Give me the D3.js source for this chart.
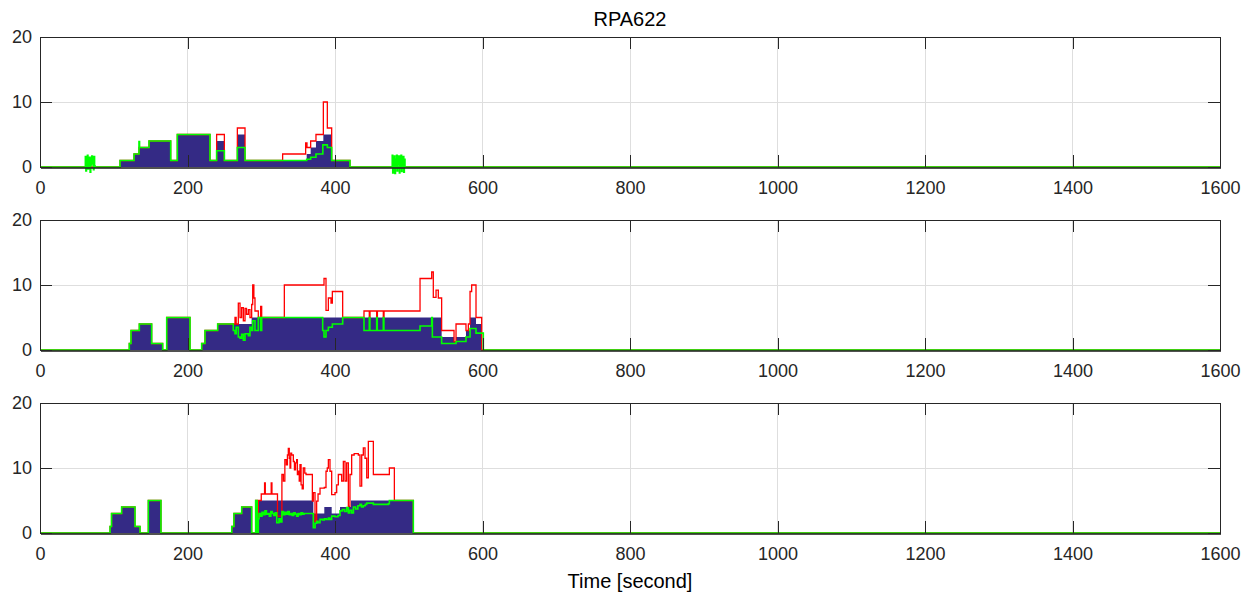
<!DOCTYPE html>
<html>
<head>
<meta charset="utf-8">
<script src="https://cdn.jsdelivr.net/npm/d3@7"></script>
<style>
  html, body { margin: 0; padding: 0; background: #fff; }
  svg { display: block; font-family: "Liberation Sans", Arial, Helvetica, sans-serif; }
</style>
</head>
<body>
<svg id="chart" width="1248" height="596"></svg>
<script>
// ---- axis ticks ----
const timeTicks = [0, 200, 400, 600, 800, 1000, 1200, 1400, 1600];
const valueTicks = [0, 10, 20];
const chartTitle = "RPA622";
const xLabel = "Time [second]";

// ---- panel 1 : [time, value] breakpoints (step after) ----
const alloc1 = [[0,0],[108.5,1],[127.5,2],[134.2,3],[147.8,4],[177.2,1],[186.2,5],[230.5,1],[239.5,4],[250,1],[267.6,5],[278,1],[361.6,2],[367,3],[374.2,4],[384.2,5],[395.5,1],[420.3,0],[1600,0]];
const demand1 = [[0,0],[108.5,1],[127.5,2],[134.2,3],[147.8,4],[177.2,1],[186.2,5],[230.5,1],[239.5,5],[250,1],[267.6,6],[278,1],[329,2],[360.2,3.7],[362,3],[367,4],[374.2,5],[384.2,10],[389.6,6],[395.5,1],[420.3,0],[1600,0]];
const usage1 = [[0,0],[61,0],[61.5,1.6],[62.2,-0.6],[63,1.2],[63.6,0.2],[64.3,1.8],[65,-0.3],[65.8,1],[66.5,0.4],[67.2,1.5],[68,-0.8],[68.8,1.1],[69.5,0.3],[70.2,1.7],[71,0.6],[71.7,1.3],[72.5,-0.4],[73.2,1.6],[74,0.2],[74.6,0],
  [108.5,1],[127.5,2],[133.4,2],[134.2,3.9],[135,3],[147.8,4],[177.2,1],[186.2,5],[230.5,1],[239.5,2.5],[250,1],[267.6,3],[278,1],[361.6,1.2],[367,1.5],[374.2,2],[383.5,3.4],[389.6,3],[395.5,1],[420.3,0],
  [477,0],[477.6,1.8],[478.3,-0.9],[479,1.4],[479.8,0.3],[480.5,1.7],[481.2,-1],[482,1.2],[482.8,0.2],[483.5,1.8],[484.3,-0.6],[485,1.5],[485.8,0.4],[486.5,1.7],[487.3,-0.9],[488,1.3],[488.8,0.1],[489.5,1.8],[490.3,-0.7],[491,1.4],[491.8,0.3],[492.5,1.6],[493.3,-0.8],[494,1.2],[494.9,0],[1600,0]];

// ---- panel 2 ----
const alloc2 = [[0,0],[121.1,1],[123.4,3],[134.7,4],[151.4,1],[166.3,0],[171.8,5],[203.4,0],[219.2,1],[223.7,3],[240.9,4],[287,5],[544.6,2],[561.4,1.3],[564.1,2],[577.6,3],[583.1,5],[591.2,4],[598.9,0],[1600,0]];
const demand2 = [[0,0],[121.1,1],[123.4,3],[134.7,4],[151.4,1],[166.3,0],[171.8,5],[203.4,0],[219.2,1],[223.7,3],[240.9,4],[264.4,5],[266,4],[268.9,7.2],[271.2,5],[273.4,6.5],[275.7,4.5],[278,6.4],[280,5.5],[282.5,6.2],[284.7,5],[287,7],[288.4,10],[290,8],[291.5,6],[296,5],[299.2,6.7],[300.6,5],[331.3,10],[383.3,10],[385.1,11],[387.8,6.1],[391,8],[394.6,7.2],[396.4,9],[410.4,5],[439.3,6],[446.5,5],[447.5,6],[456.5,5],[457.5,6],[465.5,5],[466.5,6],[515.3,11],[531.1,12],[533.3,8.1],[537,9.2],[540.1,8],[544.6,3],[561.4,1.3],[564.1,4],[577.6,3],[580.8,4],[583.1,9],[585.3,10],[591.2,5],[598.9,0],[1600,0]];
const usage2 = [[0,0],[121.1,1],[123.4,3],[134.7,4],[151.4,1],[166.3,0],[171.8,5],[203.4,0],[219.2,1],[223.7,3],[240.9,4],[262.1,3],[264.4,2.5],[266,3.5],[268.9,2],[271.2,1.8],[273.4,2.4],[275.7,1.5],[278,2.5],[282.5,2.2],[284.7,3.5],[287,3],[288.4,4.5],[291.5,3],[296,5],[299.2,3],[300.6,5],[383.3,3],[385.1,2],[387.8,3],[391,3.5],[396.4,4],[410.4,5],[439.3,3],[446.5,5],[447.3,3],[456.5,5],[457.3,3],[465.5,5],[466.3,3],[515.3,3.7],[531.1,5],[532,2],[544.6,1],[564.1,1.3],[577.6,2],[583.1,3.3],[591.2,2.6],[601.1,0],[1600,0]];

// ---- panel 3 ----
const alloc3 = [[0,0],[95,1],[97,3],[110.7,4],[128.8,1],[135.6,0],[146.9,5],[164,0],[260,1],[263,3],[273.5,4],[287,0],[292.4,5],[294.5,0],[296,5],[370.6,3],[385.5,4],[395.5,3],[406.8,4],[421.7,5],[506.2,0],[1600,0]];
const demand3 = [[0,0],[95,1],[97,3],[110.7,4],[128.8,1],[135.6,0],[146.9,5],[164,0],[260,1],[263,3],[273.5,4],[287,0],[292.4,5],[294.5,0],[296,5],[300,6],[304.5,7.7],[305.5,6],[313.5,7.7],[314.5,6],[321,6],[322,2.6],[327,2.6],[328,9],[330,8],[332,11.3],[334,10.5],[335.5,12],[336.7,13],[338,11.5],[339,10],[340,12.3],[341.2,12],[343.5,11],[345,9.7],[346.5,10.8],[348,11.3],[349,9],[350.3,9.5],[351.5,8],[352.5,10.5],[354,7.4],[355.5,6.8],[357,10],[359,9.2],[360.7,9],[368.4,9],[369.3,4.9],[370.6,6.2],[372.9,1.8],[375.1,4.9],[377,6],[379.7,6.9],[385.5,7],[387.8,9.5],[389.5,10],[391,11.3],[393.2,9.5],[395.5,5.9],[400,6.2],[402.3,7.4],[404.5,9],[409,8],[411.3,11],[413.6,8],[415.8,10.8],[418.1,4.1],[420.3,9],[422.6,12],[426,12.2],[431.6,12],[433.9,7.2],[436.2,12],[438.4,13.1],[440.7,11.5],[443,8.5],[445.2,14.1],[451.1,14.1],[452,9],[472.3,9],[473.7,10],[480,10],[480.5,5],[506.2,0],[1600,0]];
const usage3 = [[0,0],[95,1],[97,3],[110.7,4],[128.8,1],[135.6,0],[146.9,5],[164,0],[260,1],[263,3],[273.5,4],[287,0],[292.4,5],[294.5,0],[296,2.2],[297,3],[299,2.6],[301,3.2],[303,2.8],[305,3.4],[307,2.9],[309,3],[311,2.6],[313,3.3],[315,3],[317,2.7],[319,3.1],[321,1.6],[324,2.2],[326,1.7],[328,3.3],[330,2.8],[332,3.2],[334,2.9],[336,3.3],[338,2.8],[340,3],[342,2.7],[344,3.1],[346,2.9],[348,2.6],[350,3],[352,2.8],[354,3.1],[356,2.9],[358,3],[368.4,3],[370.6,0.8],[373,1.5],[375.1,1.8],[377,1.6],[379.7,2.1],[383,2],[385.5,2.2],[388,2.1],[391,2.3],[393,2.1],[395.5,2.6],[400,2.5],[404,2.7],[406.8,3.4],[410,3.6],[413,3.3],[415.8,3.9],[418.1,3.1],[420,3.5],[422.6,3.1],[425,4],[428,3.7],[431,4.2],[433.9,4.4],[436,4],[438.4,4.2],[441,4.4],[443,4.6],[448,4.6],[452,4.4],[472.3,4.5],[473.7,5],[506.2,0],[1600,0]];

const panels = [
  { alloc: alloc1, demand: demand1, usage: usage1 },
  { alloc: alloc2, demand: demand2, usage: usage2 },
  { alloc: alloc3, demand: demand3, usage: usage3 }
];

// ---- layout ----
const svg = d3.select("#chart");
const left = 40, right = 1220, panelTops = [37, 220, 403], panelH = 130;
const axisColor = "#262626";
const fontTick = 18;
const fmt = d3.format("d");

const x = d3.scaleLinear().domain([0, 1600]).range([left, right]);

svg.append("rect").attr("width", 1248).attr("height", 596).attr("fill", "#fff");

svg.append("text")
  .attr("x", (left + right) / 2).attr("y", 26)
  .attr("text-anchor", "middle")
  .attr("font-size", 20).attr("fill", "#000")
  .text(chartTitle);

panels.forEach((p, i) => {
  const top = panelTops[i], bottom = top + panelH;
  const y = d3.scaleLinear().domain([0, 20]).range([bottom, top]);
  const g = svg.append("g");

  // grid
  const grid = g.append("g").attr("stroke", "#dedede").attr("stroke-width", 1).attr("shape-rendering", "crispEdges");
  grid.selectAll("line.v").data(timeTicks.slice(1, -1)).join("line")
    .attr("x1", d => x(d)).attr("x2", d => x(d)).attr("y1", top).attr("y2", bottom);
  grid.selectAll("line.h").data(valueTicks.slice(1, -1)).join("line")
    .attr("x1", left).attr("x2", right).attr("y1", d => y(d)).attr("y2", d => y(d));

  // data
  const area = d3.area().x(d => x(d[0])).y0(y(0)).y1(d => y(d[1])).curve(d3.curveStepAfter);
  const line = d3.line().x(d => x(d[0])).y(d => y(d[1])).curve(d3.curveStepAfter);

  g.append("path").datum(p.alloc).attr("d", area).attr("fill", "#342a85");
  g.append("path").datum(p.demand).attr("d", line).attr("fill", "none")
    .attr("stroke", "#ff0000").attr("stroke-width", 1.3);
  g.append("path").datum(p.usage).attr("d", line).attr("fill", "none")
    .attr("stroke", "#00ff00").attr("stroke-width", 1.6);

  // axes (inward ticks, box)
  const axB = g.append("g").attr("transform", `translate(0,${bottom})`)
    .call(d3.axisBottom(x).tickValues(timeTicks).tickFormat(fmt).tickSizeInner(-12).tickSizeOuter(0).tickPadding(14));
  const axT = g.append("g").attr("transform", `translate(0,${top})`)
    .call(d3.axisTop(x).tickValues(timeTicks).tickSizeInner(-12).tickSizeOuter(0).tickFormat(""));
  const axL = g.append("g").attr("transform", `translate(${left},0)`)
    .call(d3.axisLeft(y).tickValues(valueTicks).tickFormat(fmt).tickSizeInner(-12).tickSizeOuter(0).tickPadding(8));
  const axR = g.append("g").attr("transform", `translate(${right},0)`)
    .call(d3.axisRight(y).tickValues(valueTicks).tickSizeInner(-12).tickSizeOuter(0).tickFormat(""));

  [axB, axT, axL, axR].forEach(a => {
    a.selectAll("path, line").attr("stroke", axisColor).attr("shape-rendering", "crispEdges");
    a.selectAll("text").attr("font-size", fontTick).attr("fill", axisColor)
      .attr("font-family", "'Liberation Sans', Arial, sans-serif");
  });
  // the zero line of the usage trace shows through the bottom edge
  axB.select("path.domain").attr("stroke-width", 2).attr("stroke-opacity", 0.8);
});

svg.append("text")
  .attr("x", (left + right) / 2).attr("y", 588)
  .attr("text-anchor", "middle")
  .attr("font-size", 20).attr("fill", "#000")
  .text(xLabel);
</script>
</body>
</html>
